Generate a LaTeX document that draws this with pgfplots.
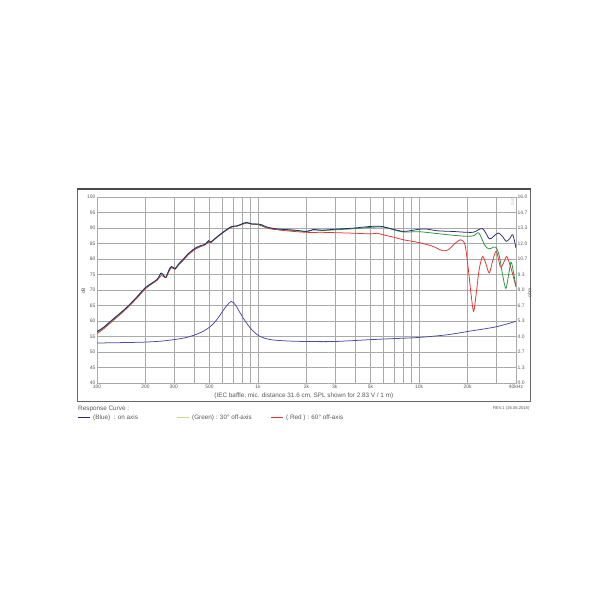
\documentclass[border=0pt]{standalone}
\usepackage{pgfplots}
\pgfplotsset{compat=1.18}
\usepackage{fontspec}
\setmainfont{Liberation Sans}
\definecolor{onax}{RGB}{40,40,115}
\definecolor{grn}{RGB}{40,150,60}
\definecolor{rd}{RGB}{230,50,50}
\definecolor{imp}{RGB}{75,75,165}
\definecolor{gridc}{RGB}{170,170,170}
\definecolor{txt}{RGB}{90,90,90}
\definecolor{lgreen}{RGB}{200,215,140}
\begin{document}
\begin{tikzpicture}
\path[use as bounding box, fill=white] (0,0) rectangle (6.1in,6.1in);
\begin{axis}[
  scale only axis, width=4.19in, height=1.86in,
  at={(0.97in,2.27in)}, anchor=south west,
  xmode=log, xmin=100, xmax=40000,
  tick style={draw=none},
  ticklabel style={font=\fontsize{3.6}{4}\selectfont, text=txt, inner sep=1pt},
  axis line style={gridc},
  /pgf/number format/assume math mode=true,
  ymin=40, ymax=100,
  xtick={100,200,300,500,1000,2000,3000,5000,10000,20000,40000},
  xticklabels={100,200,300,500,1k,2k,3k,5k,10k,20k,40kHz},
  minor xtick={400,600,700,800,900,4000,6000,7000,8000,9000,30000},
  ytick={40,45,...,100},
  grid=both,
  major grid style={gridc, line width=0.45pt},
  minor grid style={gridc, line width=0.45pt},
]
\draw[lgreen, line width=0.6pt] (axis cs:100,40) -- (axis cs:40000,40);
% Red 60 deg
\addplot[rd, smooth, line width=0.55pt] coordinates {
(100,55.9)(110,57.5)(125,60.0)(150,63.6)(175,67.1)(200,70.4)(220,72.0)(237,73.2)(250,74.6)(260,74.3)(268,74.0)(280,76.0)(290,77.2)(306,76.7)(320,78.0)(344,79.6)(370,81.4)(407,83.1)(440,84.0)(470,84.6)(493,85.4)(510,85.3)(540,86.4)(583,87.8)(630,89.1)(687,90.3)(740,90.6)(800,91.2)(850,91.6)(918,91.2)(1000,91.1)(1100,90.3)(1200,89.7)(1500,89.1)(2000,88.6)(2500,88.6)(3000,88.5)(4000,88.3)(5000,88.1)(5500,88.3)(6000,87.8)(7000,87.0)(8000,86.2)(10000,85.3)(12000,84.2)(14000,82.7)(15200,83.0)(16700,85.0)(18200,86.2)(19300,84.5)(20200,77.0)(21000,69.0)(21800,63.1)(22600,68.5)(23600,76.5)(24800,80.8)(26000,78.5)(27300,75.5)(28700,79.5)(30200,82.5)(32000,77.5)(33500,78.8)(35000,80.8)(36500,78.5)(38000,75.4)(40000,71.0)
};
% Green 30 deg
\addplot[grn, smooth, line width=0.55pt] coordinates {
(100,56.4)(110,57.8)(125,60.3)(150,63.9)(175,67.4)(200,70.7)(220,72.2)(237,73.4)(250,75.2)(260,74.5)(268,74.1)(280,76.4)(290,77.5)(306,76.8)(320,78.2)(344,79.9)(370,81.7)(407,83.4)(440,84.2)(470,84.7)(493,85.8)(510,85.4)(540,86.5)(583,87.9)(630,89.2)(687,90.4)(740,90.6)(800,91.3)(850,91.7)(918,91.3)(1000,91.2)(1100,90.5)(1200,90.0)(1500,89.4)(2000,88.9)(2200,89.4)(2500,89.2)(3000,89.4)(4000,89.8)(5000,90.2)(6000,90.3)(7000,89.4)(8000,88.7)(10000,88.8)(13000,88.2)(16000,87.7)(20000,87.3)(22000,87.6)(23500,88.4)(25500,84.6)(27000,83.3)(28500,83.6)(30000,83.8)(31500,81.0)(33000,75.0)(34600,70.5)(36000,75.0)(37300,79.0)(38500,76.0)(40000,71.0)
};
% Blue on axis
\addplot[onax, smooth, line width=0.55pt] coordinates {
(100,56.6)(110,58.0)(125,60.5)(150,64.0)(175,67.5)(200,70.8)(220,72.3)(237,73.5)(250,75.5)(260,74.6)(268,74.1)(280,76.5)(290,77.6)(306,76.9)(320,78.3)(344,80.0)(370,81.8)(407,83.5)(440,84.3)(470,84.8)(493,85.9)(510,85.5)(540,86.6)(583,88.0)(630,89.3)(687,90.5)(740,90.7)(800,91.4)(850,91.8)(918,91.3)(1000,91.3)(1060,91.0)(1110,90.5)(1195,90.0)(1300,89.7)(1500,89.5)(1700,89.3)(2000,88.9)(2200,89.5)(2500,89.3)(3000,89.6)(3500,89.8)(4000,90.0)(4500,90.3)(5000,90.5)(5500,90.6)(6000,90.4)(7000,89.5)(8000,88.9)(9000,89.2)(10000,89.6)(11000,89.7)(13000,89.1)(16000,88.9)(20000,88.6)(22000,88.7)(24800,89.8)(27300,86.5)(29000,87.3)(31000,88.4)(33000,87.3)(34700,85.7)(36500,86.5)(38200,87.8)(40000,83.5)
};
\end{axis}
\begin{axis}[
  scale only axis, width=4.19in, height=1.86in,
  at={(0.97in,2.27in)}, anchor=south west,
  xmode=log, xmin=100, xmax=40000,
  tick style={draw=none},
  ticklabel style={font=\fontsize{3.6}{4}\selectfont, text=txt, inner sep=1pt},
  axis line style={gridc},
  /pgf/number format/assume math mode=true,
  ymin=0, ymax=16,
  axis x line=none, axis y line*=right,
  ytick={0,1.33333,2.66667,4,5.33333,6.66667,8,9.33333,10.66667,12,13.33333,14.66667,16},
  yticklabels={0.0,1.3,2.7,4.0,5.3,6.7,8.0,9.3,10.7,12.0,13.3,14.7,16.0},
]
\addplot[imp, smooth, line width=0.55pt] coordinates {
(100,3.44)(150,3.48)(200,3.52)(250,3.6)(300,3.73)(350,3.88)(400,4.11)(450,4.4)(500,4.8)(540,5.25)(583,5.87)(630,6.55)(682,7.01)(725,6.7)(774,6.03)(830,5.35)(897,4.72)(960,4.3)(1030,4.0)(1195,3.73)(1500,3.62)(2000,3.57)(3000,3.57)(5000,3.73)(7000,3.82)(10000,3.92)(15000,4.15)(20000,4.43)(30000,4.83)(40000,5.31)
};
\end{axis}
\begin{scope}[x=0.01in, y=-0.01in, shift={(0,6.1in)}]
\draw[gray!80!black, line width=0.5pt] (77,189) rectangle (531,402);
\draw[gray!60!black, line width=0.9pt] (77,189) -- (531,189);
\node[rotate=90, font=\fontsize{3.6}{4}\selectfont, text=txt] at (83.5,291) {dB};
\node[rotate=90, font=\fontsize{3.6}{4}\selectfont, text=txt] at (530,293) {ohm};
\node[rotate=90, font=\fontsize{2.4}{3}\selectfont, text=gray!70] at (513,202) {CLIO};
\node[font=\fontsize{4.6}{5}\selectfont, text=txt] at (304,396.5) {(IEC baffle, mic. distance 31.6 cm, SPL shown for 2.83 V / 1 m)};
\node[anchor=west, font=\fontsize{4.6}{5}\selectfont, text=txt, inner sep=0pt] at (78,409) {Response Curve :};
\node[anchor=east, font=\fontsize{3}{3.5}\selectfont, text=txt, inner sep=0pt] at (530,408.5) {REV.1 (26.06.2018)};
\fill[onax] (78,417.5) rectangle (90,418.6);
\node[anchor=west, font=\fontsize{4.6}{5}\selectfont, text=txt, inner sep=0pt] at (93,418) {(Blue)\ \ : on axis};
\fill[lgreen] (177,417.5) rectangle (189,418.6);
\node[anchor=west, font=\fontsize{4.6}{5}\selectfont, text=txt, inner sep=0pt] at (192,418) {(Green) : 30° off-axis};
\fill[rd] (271,417.5) rectangle (283,418.6);
\node[anchor=west, font=\fontsize{4.6}{5}\selectfont, text=txt, inner sep=0pt] at (286,418) {( Red ) : 60° off-axis};
\end{scope}
\end{tikzpicture}
\end{document}
